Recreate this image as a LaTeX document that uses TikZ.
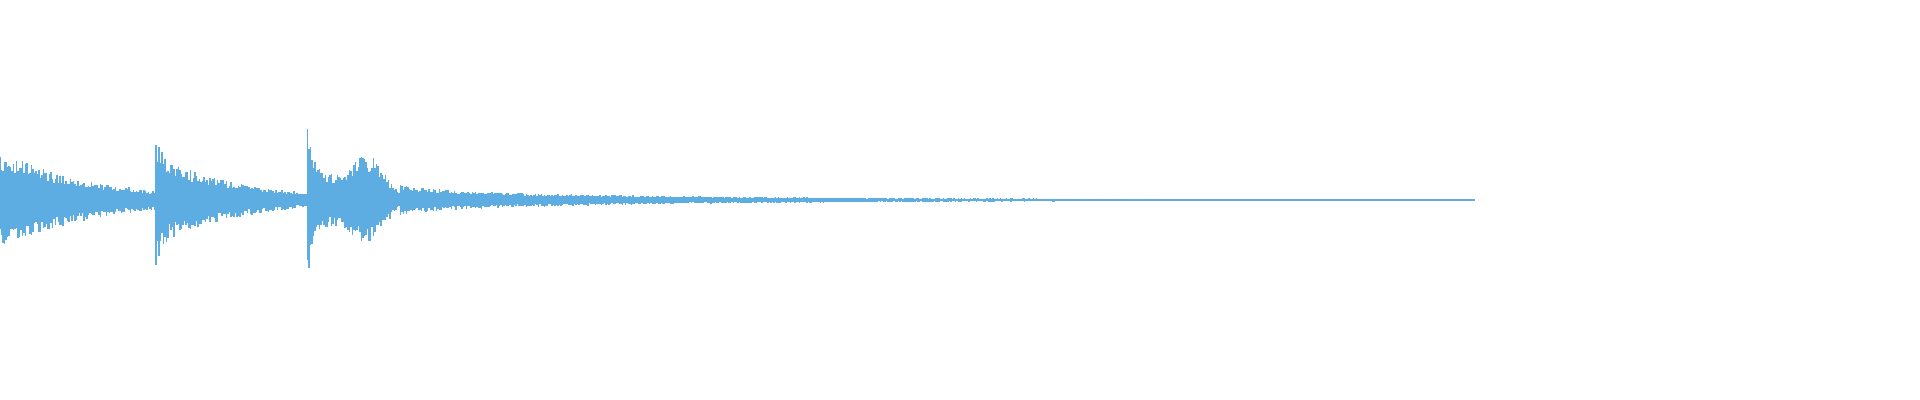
\documentclass[tikz,border=0pt]{standalone}
\definecolor{wave}{RGB}{93,173,226}
\begin{document}
\begin{tikzpicture}[x=0.01cm, y=-0.01cm,
    declare function={
      envA(\x)=45*exp(-max(\x-10,0)/96);
      envB(\x)=38*exp(-max(\x-170,0)/87)+28*exp(-max(\x-157,0)/5);
      envC(\x)=40*exp(-max(\x-310,0)/40)+36*exp(-min(((\x-368)/22)^2,40))+50*exp(-max(\x-308,0)/4)+10*exp(-max(\x-400,0)/250)*(\x>400)+0.8;
      env(\x)=(\x<156) ? envA(\x) : ((\x<307) ? envB(\x) : envC(\x));
    },
    trace/.style={wave, line width=0.35pt}
]
\useasboundingbox (0,0) rectangle (1920,400);
\pgfmathsetseed{7}

% centre line
\draw[trace, line width=0.15pt, wave!60] (0,200) -- (1475,200);

% waveform
\foreach \x in {0,1.5,...,1475}{
  \pgfmathsetmacro{\e}{env(\x)}
  \pgfmathsetmacro{\up}{\e*(0.6+0.4*rnd)}
  \pgfmathsetmacro{\dn}{\e*(0.6+0.4*rnd)}
  \draw[trace] (\x,200-\up) -- (\x,200+\dn);
}
\end{tikzpicture}
\end{document}
